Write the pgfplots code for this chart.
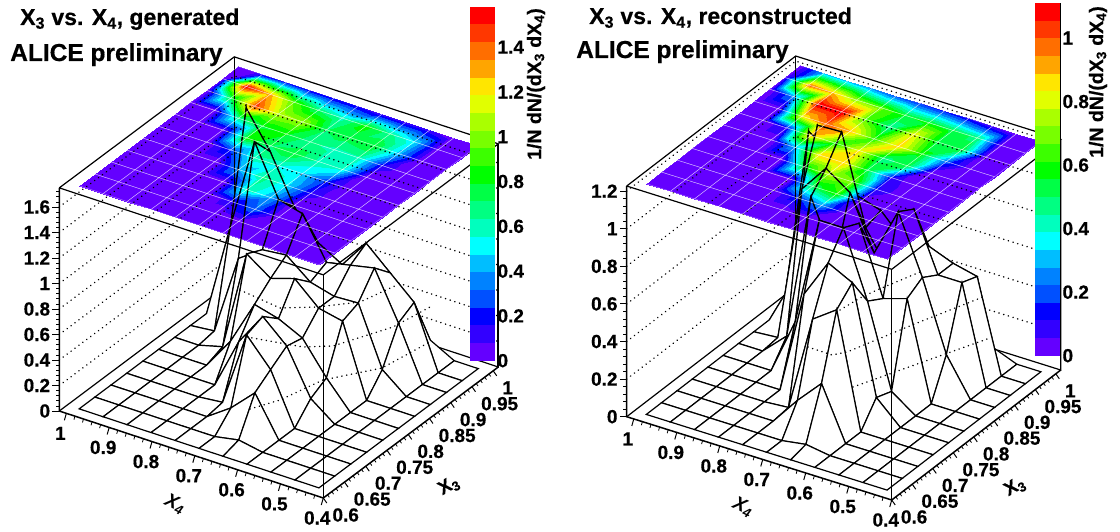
\documentclass[border=0pt]{standalone}
\usepackage{pgfplots}
\pgfplotsset{compat=1.18}
\usepackage{pgfplotstable}
\usepackage{fontspec}
\setmainfont{Liberation Sans}[BoldFeatures={FakeBold=0.5}]
\usepgfplotslibrary{patchplots}

\definecolor{c0}{RGB}{100,0,255}\definecolor{c1}{RGB}{50,0,255}
\definecolor{c2}{RGB}{0,0,255}\definecolor{c3}{RGB}{0,80,255}
\definecolor{c4}{RGB}{0,130,255}\definecolor{c5}{RGB}{0,190,255}
\definecolor{c6}{RGB}{0,255,255}\definecolor{c7}{RGB}{0,255,190}
\definecolor{c8}{RGB}{0,255,130}\definecolor{c9}{RGB}{0,255,70}
\definecolor{c10}{RGB}{0,255,0}\definecolor{c11}{RGB}{60,255,0}
\definecolor{c12}{RGB}{120,255,0}\definecolor{c13}{RGB}{170,255,0}
\definecolor{c14}{RGB}{225,255,0}\definecolor{c15}{RGB}{255,230,0}
\definecolor{c16}{RGB}{255,165,0}\definecolor{c17}{RGB}{255,110,0}
\definecolor{c18}{RGB}{255,55,0}\definecolor{c19}{RGB}{255,0,0}

\pgfplotsset{
  colormap={whitemap}{rgb255=(255,255,255) rgb255=(255,255,255)},
  colormap={rootpal}{
    rgb255(0)=(100,0,255) rgb255(49)=(100,0,255)
    rgb255(50)=(50,0,255) rgb255(99)=(50,0,255)
    rgb255(100)=(0,0,255) rgb255(149)=(0,0,255)
    rgb255(150)=(0,80,255) rgb255(199)=(0,80,255)
    rgb255(200)=(0,130,255) rgb255(249)=(0,130,255)
    rgb255(250)=(0,190,255) rgb255(299)=(0,190,255)
    rgb255(300)=(0,255,255) rgb255(349)=(0,255,255)
    rgb255(350)=(0,255,190) rgb255(399)=(0,255,190)
    rgb255(400)=(0,255,130) rgb255(449)=(0,255,130)
    rgb255(450)=(0,255,70) rgb255(499)=(0,255,70)
    rgb255(500)=(0,255,0) rgb255(549)=(0,255,0)
    rgb255(550)=(60,255,0) rgb255(599)=(60,255,0)
    rgb255(600)=(120,255,0) rgb255(649)=(120,255,0)
    rgb255(650)=(170,255,0) rgb255(699)=(170,255,0)
    rgb255(700)=(225,255,0) rgb255(749)=(225,255,0)
    rgb255(750)=(255,230,0) rgb255(799)=(255,230,0)
    rgb255(800)=(255,165,0) rgb255(849)=(255,165,0)
    rgb255(850)=(255,110,0) rgb255(899)=(255,110,0)
    rgb255(900)=(255,55,0) rgb255(949)=(255,55,0)
    rgb255(950)=(255,0,0) rgb255(999)=(255,0,0)
  },
  panel/.style={
    hide axis, clip=false, anchor=south west,
    xmin=0.4, xmax=1.0165, ymin=0.6, ymax=1.012, zmin=0,
    colormap name=rootpal, point meta min=0,
  },
  cbar/.style={
    scale only axis, anchor=south west, ybar stacked, bar width=25pt, x=25pt,
    xmin=-0.5, xmax=0.5, ymin=0, axis x line=none, axis y line*=right,
    tick align=inside, major tick length=9pt, ytick pos=right, clip=true,
    yticklabel style={font=\fontsize{19}{19}\selectfont\bfseries, xshift=-1pt},
    every axis plot/.append style={draw=none},
    axis line style={line width=1pt}, tick style={line width=1pt, black},
  },
  contour plane/.style={surf, shader=interp, mesh/rows=11, mesh/cols=11, mesh/ordering=y varies, z buffer=none, forget plot, blend mode=multiply},
  plane grid/.style={mesh, color=white, opacity=0.5, line width=0.4pt, mesh/rows=11, mesh/cols=11, mesh/ordering=y varies, z buffer=none, forget plot, point meta=0},
  white surf/.style={surf, shader=faceted, colormap name=whitemap, faceted color=black, line width=1.2pt, mesh/rows=11, mesh/cols=11, mesh/ordering=y varies, z buffer=none, forget plot, point meta=0},
  frame/.style={black, line width=1.2pt, forget plot, no markers},
  wall/.style={black, line width=1.6pt, line cap=round, dash pattern=on 0.1pt off 4.8pt, forget plot, no markers},
}

% x = X4, y = X3, z = 1/N dN/(dX3 dX4)
\pgfplotstableread[row sep=\\]{
x y z\\
0.989 0.994 0\\ 0.989 0.956 .07\\ 0.989 0.919 0\\ 0.989 0.881 0\\ 0.989 0.844 0\\ 0.989 0.806 0\\ 0.989 0.769 0\\ 0.989 0.731 0\\ 0.989 0.694 0\\ 0.989 0.656 0\\ 0.989 0.619 0\\
0.933 0.994 .1\\ 0.933 0.956 1.58\\ 0.933 0.919 .75\\ 0.933 0.881 .02\\ 0.933 0.844 0\\ 0.933 0.806 0\\ 0.933 0.769 0\\ 0.933 0.731 0\\ 0.933 0.694 0\\ 0.933 0.656 0\\ 0.933 0.619 0\\
0.877 0.994 .18\\ 0.877 0.956 1.3\\ 0.877 0.919 1.47\\ 0.877 0.881 .65\\ 0.877 0.844 .05\\ 0.877 0.806 0\\ 0.877 0.769 0\\ 0.877 0.731 0\\ 0.877 0.694 0\\ 0.877 0.656 0\\ 0.877 0.619 0\\
0.821 0.994 .15\\ 0.821 0.956 .93\\ 0.821 0.919 1.08\\ 0.821 0.881 .78\\ 0.821 0.844 .84\\ 0.821 0.806 .25\\ 0.821 0.769 0\\ 0.821 0.731 0\\ 0.821 0.694 0\\ 0.821 0.656 0\\ 0.821 0.619 0\\
0.765 0.994 .15\\ 0.765 0.956 .71\\ 0.765 0.919 1.03\\ 0.765 0.881 .8\\ 0.765 0.844 .71\\ 0.765 0.806 .6\\ 0.765 0.769 .4\\ 0.765 0.731 .02\\ 0.765 0.694 0\\ 0.765 0.656 0\\ 0.765 0.619 0\\
0.709 0.994 .15\\ 0.709 0.956 .6\\ 0.709 0.919 .71\\ 0.709 0.881 .65\\ 0.709 0.844 .77\\ 0.709 0.806 .55\\ 0.709 0.769 .66\\ 0.709 0.731 .61\\ 0.709 0.694 .13\\ 0.709 0.656 0\\ 0.709 0.619 0\\
0.653 0.994 .1\\ 0.653 0.956 .83\\ 0.653 0.919 .75\\ 0.653 0.881 .6\\ 0.653 0.844 .6\\ 0.653 0.806 .46\\ 0.653 0.769 .49\\ 0.653 0.731 .4\\ 0.653 0.694 .31\\ 0.653 0.656 .035\\ 0.653 0.619 0\\
0.597 0.994 .1\\ 0.597 0.956 .66\\ 0.597 0.919 .79\\ 0.597 0.881 .61\\ 0.597 0.844 .56\\ 0.597 0.806 .21\\ 0.597 0.769 .14\\ 0.597 0.731 0\\ 0.597 0.694 0\\ 0.597 0.656 0\\ 0.597 0.619 0\\
0.541 0.994 .1\\ 0.541 0.956 .49\\ 0.541 0.919 .42\\ 0.541 0.881 .15\\ 0.541 0.844 0\\ 0.541 0.806 0\\ 0.541 0.769 0\\ 0.541 0.731 0\\ 0.541 0.694 0\\ 0.541 0.656 0\\ 0.541 0.619 0\\
0.485 0.994 0\\ 0.485 0.956 0\\ 0.485 0.919 0\\ 0.485 0.881 0\\ 0.485 0.844 0\\ 0.485 0.806 0\\ 0.485 0.769 0\\ 0.485 0.731 0\\ 0.485 0.694 0\\ 0.485 0.656 0\\ 0.485 0.619 0\\
0.429 0.994 0\\ 0.429 0.956 0\\ 0.429 0.919 0\\ 0.429 0.881 0\\ 0.429 0.844 0\\ 0.429 0.806 0\\ 0.429 0.769 0\\ 0.429 0.731 0\\ 0.429 0.694 0\\ 0.429 0.656 0\\ 0.429 0.619 0\\
}\gendata

\pgfplotstableread[row sep=\\]{
x y z\\
0.989 0.994 0\\ 0.989 0.956 .05\\ 0.989 0.919 0\\ 0.989 0.881 0\\ 0.989 0.844 0\\ 0.989 0.806 0\\ 0.989 0.769 0\\ 0.989 0.731 0\\ 0.989 0.694 0\\ 0.989 0.656 0\\ 0.989 0.619 0\\
0.933 0.994 .3\\ 0.933 0.956 .98\\ 0.933 0.919 .25\\ 0.933 0.881 .01\\ 0.933 0.844 0\\ 0.933 0.806 0\\ 0.933 0.769 0\\ 0.933 0.731 0\\ 0.933 0.694 0\\ 0.933 0.656 0\\ 0.933 0.619 0\\
0.877 0.994 .3\\ 0.877 0.956 .9\\ 0.877 0.919 1.115\\ 0.877 0.881 .84\\ 0.877 0.844 .12\\ 0.877 0.806 0\\ 0.877 0.769 0\\ 0.877 0.731 0\\ 0.877 0.694 0\\ 0.877 0.656 0\\ 0.877 0.619 0\\
0.821 0.994 .25\\ 0.821 0.956 .72\\ 0.821 0.919 1.12\\ 0.821 0.881 .99\\ 0.821 0.844 .9\\ 0.821 0.806 .3\\ 0.821 0.769 0\\ 0.821 0.731 0\\ 0.821 0.694 0\\ 0.821 0.656 0\\ 0.821 0.619 0\\
0.765 0.994 .2\\ 0.765 0.956 .68\\ 0.765 0.919 .65\\ 0.765 0.881 .9\\ 0.765 0.844 .6\\ 0.765 0.806 .88\\ 0.765 0.769 .55\\ 0.765 0.731 .01\\ 0.765 0.694 0\\ 0.765 0.656 0\\ 0.765 0.619 0\\
0.709 0.994 .15\\ 0.709 0.956 .55\\ 0.709 0.919 .45\\ 0.709 0.881 .62\\ 0.709 0.844 .84\\ 0.709 0.806 .88\\ 0.709 0.769 .755\\ 0.709 0.731 .52\\ 0.709 0.694 .15\\ 0.709 0.656 0\\ 0.709 0.619 0\\
0.653 0.994 .15\\ 0.653 0.956 .57\\ 0.653 0.919 .83\\ 0.653 0.881 .88\\ 0.653 0.844 .48\\ 0.653 0.806 .53\\ 0.653 0.769 .69\\ 0.653 0.731 .61\\ 0.653 0.694 .28\\ 0.653 0.656 .02\\ 0.653 0.619 0\\
0.597 0.994 .1\\ 0.597 0.956 .52\\ 0.597 0.919 .52\\ 0.597 0.881 .57\\ 0.597 0.844 .52\\ 0.597 0.806 .09\\ 0.597 0.769 .12\\ 0.597 0.731 0\\ 0.597 0.694 0\\ 0.597 0.656 0\\ 0.597 0.619 0\\
0.541 0.994 .05\\ 0.541 0.956 .49\\ 0.541 0.919 .52\\ 0.541 0.881 .2\\ 0.541 0.844 0\\ 0.541 0.806 0\\ 0.541 0.769 0\\ 0.541 0.731 0\\ 0.541 0.694 0\\ 0.541 0.656 0\\ 0.541 0.619 0\\
0.485 0.994 0\\ 0.485 0.956 0\\ 0.485 0.919 0\\ 0.485 0.881 0\\ 0.485 0.844 0\\ 0.485 0.806 0\\ 0.485 0.769 0\\ 0.485 0.731 0\\ 0.485 0.694 0\\ 0.485 0.656 0\\ 0.485 0.619 0\\
0.429 0.994 0\\ 0.429 0.956 0\\ 0.429 0.919 0\\ 0.429 0.881 0\\ 0.429 0.844 0\\ 0.429 0.806 0\\ 0.429 0.769 0\\ 0.429 0.731 0\\ 0.429 0.694 0\\ 0.429 0.656 0\\ 0.429 0.619 0\\
}\recdata

\newcommand{\tl}{\fontsize{19}{19}\selectfont\bfseries}

\begin{document}
\begin{tikzpicture}[x=1pt,y=1pt]
\path[use as bounding box] (0,0) rectangle (1120,531);

% ---- generated ----
\begin{axis}[panel, at={(59.3pt,33pt)},
  x={(-428.2pt,141.1pt)}, y={(424.8pt,318pt)}, z={(0pt,127.5pt)},
  zmax=1.75, point meta max=1.58]
  \pgfplotsinvokeforeach{0.2,0.4,0.6,0.8,1,1.2,1.4,1.6}{
    \addplot3[wall] coordinates {(1.0165,0.6,#1) (1.0165,1.012,#1) (0.4,1.012,#1)};
  }
  \addplot3[frame] coordinates {(1.0165,1.012,1.75) (1.0165,1.012,0)};
  \addplot3[frame] coordinates {(1.0165,0.6,0) (1.0165,1.012,0) (0.4,1.012,0) (0.4,1.012,1.75)};
  \addplot3[white surf] table[x=x,y=y,z=z]{\gendata};
  \addplot3[contour plane, point meta=explicit] table[x=x,y=y,z expr=1.75,meta=z]{\gendata};
  \addplot3[plane grid] table[x=x,y=y,z expr=1.75]{\gendata};
  \addplot3[frame, line width=1.5pt] coordinates {(1.0165,0.6,1.75) (1.0165,0.6,0) (0.4,0.6,0) (0.4,1.012,0)};
  \addplot3[frame] coordinates {(1.0165,0.6,1.75) (1.0165,1.012,1.75) (0.4,1.012,1.75) (0.4,0.6,1.75) (1.0165,0.6,1.75)};
  \addplot3[frame] coordinates {(0.4,0.6,0) (0.4,0.6,1.75)};
  \pgfplotsinvokeforeach{1,0.9,0.8,0.7,0.6,0.5,0.4}{
    \draw[line width=1pt] (axis cs:#1,0.6,0) -- ++(-2pt,-7pt);
    \node[font=\tl] at (axis cs:#1,0.6,0) [xshift=-6pt,yshift=-20pt] {#1};
  }
  \pgfplotsinvokeforeach{0.98,0.96,0.94,0.92,0.88,0.86,0.84,0.82,0.78,0.76,0.74,0.72,0.68,0.66,0.64,0.62,0.58,0.56,0.54,0.52,0.48,0.46,0.44,0.42}{
    \draw[line width=0.8pt] (axis cs:#1,0.6,0) -- ++(-1pt,-3.5pt);
  }
  \pgfplotsinvokeforeach{1,0.95,0.9,0.85,0.8,0.75,0.7,0.65,0.6}{
    \draw[line width=1pt] (axis cs:0.4,#1,0) -- ++(3.5pt,-5pt);
    \node[font=\tl,anchor=west] at (axis cs:0.4,#1,0) [xshift=9pt,yshift=-17pt,inner sep=0pt] {#1};
  }
  \pgfplotsinvokeforeach{0.61,0.62,0.63,0.64,0.66,0.67,0.68,0.69,0.71,0.72,0.73,0.74,0.76,0.77,0.78,0.79,0.81,0.82,0.83,0.84,0.86,0.87,0.88,0.89,0.91,0.92,0.93,0.94,0.96,0.97,0.98,0.99}{
    \draw[line width=0.8pt] (axis cs:0.4,#1,0) -- ++(1.8pt,-2.5pt);
  }
  \pgfplotsinvokeforeach{0,0.2,0.4,0.6,0.8,1,1.2,1.4,1.6}{
    \draw[line width=1pt] (axis cs:1.0165,0.6,#1) -- ++(-7pt,0pt);
    \node[font=\tl,anchor=east,inner sep=0pt] at (axis cs:1.0165,0.6,#1) [xshift=-9pt] {#1};
  }
  \pgfplotsinvokeforeach{0.04,0.08,0.12,0.16,0.24,0.28,0.32,0.36,0.44,0.48,0.52,0.56,0.64,0.68,0.72,0.76,0.84,0.88,0.92,0.96,1.04,1.08,1.12,1.16,1.24,1.28,1.32,1.36,1.44,1.48,1.52,1.56,1.64,1.68,1.72}{
    \draw[line width=0.8pt] (axis cs:1.0165,0.6,#1) -- ++(-3.5pt,0pt);
  }
\end{axis}
\begin{axis}[cbar, at={(470pt,170.3pt)}, y=224pt, ymax=1.58,
  ytick={0,0.2,0.4,0.6,0.8,1,1.2,1.4}, yticklabels={0,0.2,0.4,0.6,0.8,1,1.2,1.4}]
  \pgfplotsinvokeforeach{0,...,19}{\addplot[fill=c#1] coordinates {(0,0.079)};}
\end{axis}
\draw[line width=1.2pt] (497.5,164) -- (497.5,387);
\draw[black,line width=1.6pt,line cap=round,dash pattern=on 0.1pt off 4.8pt]
  (240,241) -- (280,223) -- (317,224) -- (360,229) -- (397,246)
  (247,194) -- (303,184) -- (333,185) -- (393,204) -- (430,224)
  (250,122) -- (280,131) -- (323,151) -- (382,163) -- (428,188);
\node[rotate=90,anchor=base,font=\fontsize{19.5}{19.5}\selectfont\bfseries] at (541,447) {1/N dN/(dX\textsubscript{3} dX\textsubscript{4})};
\node[anchor=base west,font=\fontsize{23}{23}\selectfont\bfseries] at (16.7,506) {X\textsubscript{3} vs. X\textsubscript{4}, generated};
\node[anchor=base west,font=\fontsize{24.5}{24.5}\selectfont\bfseries] at (6.7,470) {ALICE preliminary};
\node[rotate=-25,font=\fontsize{19}{19}\selectfont\bfseries\itshape] at (175,27) {X\textsubscript{4}};
\node[rotate=30,font=\fontsize{19}{19}\selectfont\bfseries] at (449,45) {X\textsubscript{3}};

% ---- reconstructed ----
\begin{axis}[panel, at={(626.7pt,31pt)},
  x={(-429.9pt,135.1pt)}, y={(410.2pt,315.5pt)}, z={(0pt,188pt)},
  zmax=1.227, point meta max=1.11]
  \pgfplotsinvokeforeach{0.2,0.4,0.6,0.8,1,1.2}{
    \addplot3[wall] coordinates {(1.0165,0.6,#1) (1.0165,1.012,#1) (0.4,1.012,#1)};
  }
  \addplot3[frame] coordinates {(1.0165,1.012,1.227) (1.0165,1.012,0)};
  \addplot3[frame] coordinates {(1.0165,0.6,0) (1.0165,1.012,0) (0.4,1.012,0) (0.4,1.012,1.227)};
  \addplot3[white surf] table[x=x,y=y,z=z]{\recdata};
  \addplot3[contour plane, point meta=explicit] table[x=x,y=y,z expr=1.227,meta=z]{\recdata};
  \addplot3[plane grid] table[x=x,y=y,z expr=1.227]{\recdata};
  \addplot3[frame, line width=1.5pt] coordinates {(1.0165,0.6,1.227) (1.0165,0.6,0) (0.4,0.6,0) (0.4,1.012,0)};
  \addplot3[frame] coordinates {(1.0165,0.6,1.227) (1.0165,1.012,1.227) (0.4,1.012,1.227) (0.4,0.6,1.227) (1.0165,0.6,1.227)};
  \addplot3[frame] coordinates {(0.4,0.6,0) (0.4,0.6,1.227)};
  \pgfplotsinvokeforeach{1,0.9,0.8,0.7,0.6,0.5,0.4}{
    \draw[line width=1pt] (axis cs:#1,0.6,0) -- ++(-2pt,-7pt);
    \node[font=\tl] at (axis cs:#1,0.6,0) [xshift=-6pt,yshift=-20pt] {#1};
  }
  \pgfplotsinvokeforeach{0.98,0.96,0.94,0.92,0.88,0.86,0.84,0.82,0.78,0.76,0.74,0.72,0.68,0.66,0.64,0.62,0.58,0.56,0.54,0.52,0.48,0.46,0.44,0.42}{
    \draw[line width=0.8pt] (axis cs:#1,0.6,0) -- ++(-1pt,-3.5pt);
  }
  \pgfplotsinvokeforeach{1,0.95,0.9,0.85,0.8,0.75,0.7,0.65,0.6}{
    \draw[line width=1pt] (axis cs:0.4,#1,0) -- ++(3.5pt,-5pt);
    \node[font=\tl,anchor=west] at (axis cs:0.4,#1,0) [xshift=9pt,yshift=-17pt,inner sep=0pt] {#1};
  }
  \pgfplotsinvokeforeach{0.61,0.62,0.63,0.64,0.66,0.67,0.68,0.69,0.71,0.72,0.73,0.74,0.76,0.77,0.78,0.79,0.81,0.82,0.83,0.84,0.86,0.87,0.88,0.89,0.91,0.92,0.93,0.94,0.96,0.97,0.98,0.99}{
    \draw[line width=0.8pt] (axis cs:0.4,#1,0) -- ++(1.8pt,-2.5pt);
  }
  \pgfplotsinvokeforeach{0,0.2,0.4,0.6,0.8,1,1.2}{
    \draw[line width=1pt] (axis cs:1.0165,0.6,#1) -- ++(-7pt,0pt);
    \node[font=\tl,anchor=east,inner sep=0pt] at (axis cs:1.0165,0.6,#1) [xshift=-9pt] {#1};
  }
  \pgfplotsinvokeforeach{0.04,0.08,0.12,0.16,0.24,0.28,0.32,0.36,0.44,0.48,0.52,0.56,0.64,0.68,0.72,0.76,0.84,0.88,0.92,0.96,1.04,1.08,1.12,1.16}{
    \draw[line width=0.8pt] (axis cs:1.0165,0.6,#1) -- ++(-3.5pt,0pt);
  }
\end{axis}
\begin{axis}[cbar, at={(1035pt,175.3pt)}, y=317.7pt, ymax=1.11,
  ytick={0,0.2,0.4,0.6,0.8,1}, yticklabels={0,0.2,0.4,0.6,0.8,1}]
  \pgfplotsinvokeforeach{0,...,19}{\addplot[fill=c#1] coordinates {(0,0.0555)};}
\end{axis}
\draw[line width=1.2pt] (1060.7,161) -- (1060.7,392);
\draw[black,line width=1.6pt,line cap=round,dash pattern=on 0.1pt off 4.8pt]
  (808,184) -- (832,176) -- (847,179) -- (917,208) -- (983,234)
  (853,144) -- (920,168) -- (990,193)
  (840,221) -- (860,233) -- (877,241) -- (920,259);
\node[rotate=90,anchor=base,font=\fontsize{19.5}{19.5}\selectfont\bfseries] at (1103,449) {1/N dN/(dX\textsubscript{3} dX\textsubscript{4})};
\node[anchor=base west,font=\fontsize{23}{23}\selectfont\bfseries] at (585.7,507) {X\textsubscript{3} vs. X\textsubscript{4}, reconstructed};
\node[anchor=base west,font=\fontsize{24.5}{24.5}\selectfont\bfseries] at (572.7,473) {ALICE preliminary};
\node[rotate=-25,font=\fontsize{19}{19}\selectfont\bfseries\itshape] at (743,24) {X\textsubscript{4}};
\node[rotate=30,font=\fontsize{19}{19}\selectfont\bfseries] at (1015,44) {X\textsubscript{3}};
\end{tikzpicture}
\end{document}
